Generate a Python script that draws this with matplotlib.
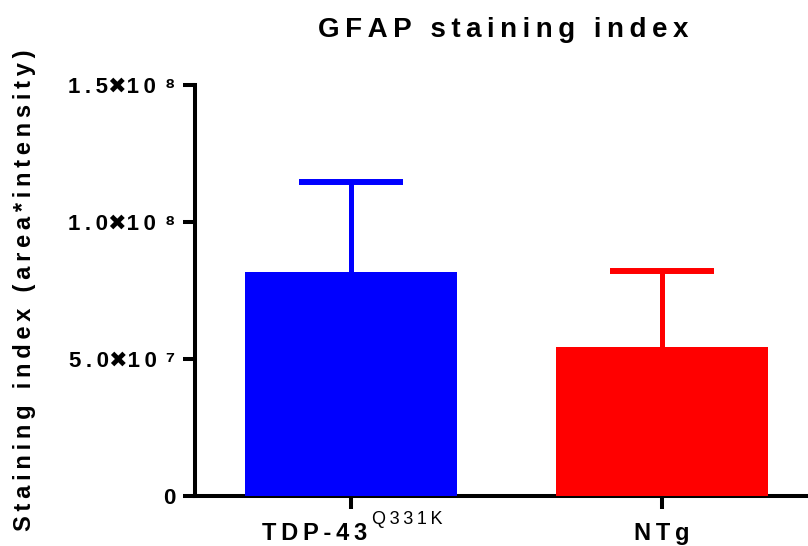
import matplotlib
matplotlib.use("Agg")
import matplotlib.pyplot as plt
from matplotlib.transforms import offset_copy

# Data
groups = ["TDP-43", "NTg"]
group_sup = ["Q331K", ""]
means = [8.18e7, 5.44e7]
sems = [3.28e7, 2.77e7]
colors = ["#0000FF", "#FF0000"]
yticks = [0, 5e7, 1e8, 1.5e8]
ytick_mant = ["0", "5.0", "1.0", "1.5"]
ytick_exp = ["", "\u2077", "\u2078", "\u2078"]

plt.rcParams['font.family'] = ['Liberation Sans', 'DejaVu Sans']
plt.rcParams['font.weight'] = 'bold'

TS = "\u2009"  # thin space, used for the GraphPad letter spacing


def spaced(s):
    return TS.join(s)


def sci_label(m, e):
    if not e:
        return m
    return spaced(m) + "\u2716" + spaced("10") + TS * 2 + e


fig = plt.figure(figsize=(8.08, 5.46), dpi=100)
ax = fig.add_axes([195 / 808, 50 / 546, 1 - 195 / 808, 411 / 546])

x = list(range(len(groups)))
for i in x:
    ax.bar(i, means[i], width=0.68, color=colors[i], zorder=3)
    top = means[i] + sems[i]
    ax.vlines(i, means[i], top, color=colors[i], lw=3.6, zorder=2)
    ax.hlines(top, i - 0.167, i + 0.167, color=colors[i], lw=4.3, zorder=2)

ax.set_xlim(-0.502, 1.47)
ax.set_ylim(0, 1.5e8)
ax.set_yticks(yticks)
ax.set_yticklabels([sci_label(m, e) for m, e in zip(ytick_mant, ytick_exp)],
                   fontsize=16, fontweight='bold')
ax.set_xticks(x)
ax.set_xticklabels(["" for _ in x])

for side in ['top', 'right']:
    ax.spines[side].set_visible(False)
for side in ['left', 'bottom']:
    ax.spines[side].set_linewidth(2.9)
ax.tick_params(axis='both', width=2.9, length=9, direction='out')
ax.tick_params(axis='y', pad=5)

# x group labels, with the superscript in a lighter weight
base = ax.get_xaxis_transform()
for i in x:
    shift = -36 if group_sup[i] else 0
    tr = offset_copy(base, fig=fig, x=shift, y=-44, units='dots')
    t = ax.text(i, 0, spaced(groups[i]), transform=tr, ha='center',
                va='baseline', fontsize=17, fontweight='bold')
    if group_sup[i]:
        ax.annotate(spaced(group_sup[i]), xy=(1, 0), xycoords=t,
                    xytext=(3, 12), textcoords='offset points',
                    ha='left', va='bottom', fontsize=13, fontweight='normal')

fig.text(25 / 808, 1 - 290 / 546, spaced("Staining index (area*intensity)"),
         rotation=90, ha='center', va='center', fontsize=17, fontweight='bold')
fig.text(503 / 808, 1 - 37 / 546, spaced("GFAP staining index"),
         ha='center', va='baseline', fontsize=20, fontweight='bold')

fig.savefig("out.png", dpi=100)
